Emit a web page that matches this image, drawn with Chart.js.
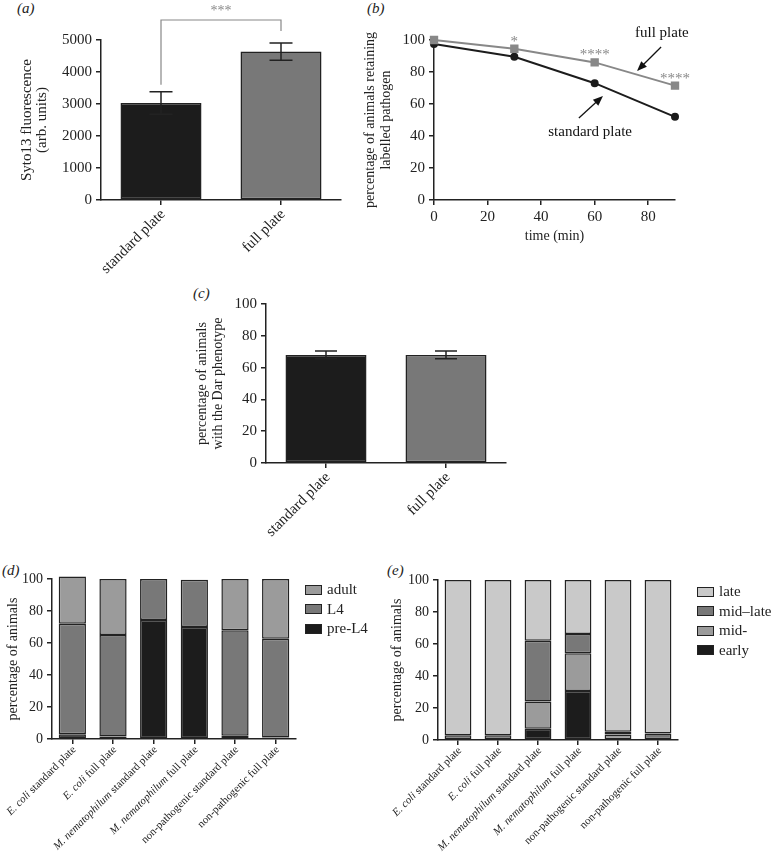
<!DOCTYPE html>
<html>
<head>
<meta charset="utf-8">
<script src="https://cdn.jsdelivr.net/npm/chart.js@4"></script>
<style>
  body { margin: 0; background: #fff; width: 773px; height: 863px; position: relative; overflow: hidden;
         font-family: "Liberation Serif", "Times New Roman", serif; color: #222; }
  canvas { position: absolute; }
  .tag { position: absolute; font-style: italic; font-size: 15px; line-height: 16px; }
  .legend { position: absolute; font-size: 15px; }
  .legend .row { height: 19.5px; display: flex; align-items: center; }
  .legend .sw { width: 15px; height: 8px; border: 1.5px solid #222; margin-right: 5px; }
</style>
</head>
<body>
<div class="tag" style="left:17px;top:0px">(a)</div>
<div class="tag" style="left:367px;top:0px">(b)</div>
<div class="tag" style="left:193px;top:285px">(c)</div>
<div class="tag" style="left:2px;top:562px">(d)</div>
<div class="tag" style="left:387px;top:562px">(e)</div>

<canvas id="chartA" width="355" height="280" style="left:0;top:0"></canvas>
<canvas id="chartB" width="418" height="250" style="left:355px;top:0"></canvas>
<canvas id="chartC" width="340" height="300" style="left:185px;top:280px"></canvas>
<canvas id="chartD" width="385" height="303" style="left:0;top:560px"></canvas>
<canvas id="chartE" width="388" height="303" style="left:385px;top:560px"></canvas>
<div class="legend" id="legendD" style="left:305px;top:580px"></div>
<div class="legend" id="legendE" style="left:697px;top:582px"></div>

<script>
// (a) Syto13 fluorescence
const plates = ['standard plate', 'full plate'];
const syto13Mean = [3030, 4640];
const syto13Err = [350, 270];
const syto13Stars = '***';

// (b) retention over time
const timeMin = [0, 30, 60, 90];
const retainStandard = [97.5, 89.5, 73, 52];
const retainFull = [100, 94.5, 86, 71.5];
const retainStars = ['', '*', '****', '****'];

// (c) Dar phenotype
const darMean = [68, 68];
const darErr = [2.5, 2.5];

// (d), (e) conditions
const conditions = [
  'E. coli standard plate', 'E. coli full plate',
  'M. nematophilum standard plate', 'M. nematophilum full plate',
  'non-pathogenic standard plate', 'non-pathogenic full plate'
];
const italicTerms = ['E. coli', 'M. nematophilum'];

// (d) developmental stage
const stagePreL4 = [3, 1.5, 74.4, 70, 2, 1];
const stageL4 = [69, 63.5, 25.6, 29.5, 66, 61.7];
const stageAdult = [29.5, 35, 0, 0, 32, 37.3];

// (e) swelling stage
const morphEarly = [0, 0, 7, 30.6, 0, 0];
const morphMid = [0, 0, 17, 23.6, 3.5, 0];
const morphMidLate = [3, 3, 38, 12.1, 1.7, 4];
const morphLate = [97, 97, 38, 33.7, 94.8, 96];

const INK = '#222';
const BLACK = '#1c1c1c';
const DARK = '#787878';
const MID = '#9b9b9b';
const LIGHT = '#c9c9c9';
const FONT = '"Liberation Serif", "Times New Roman", serif';

Chart.defaults.font.family = FONT;
Chart.defaults.color = INK;
Chart.defaults.animation = false;
Chart.defaults.events = [];
Chart.defaults.plugins.legend.display = false;
Chart.defaults.plugins.tooltip.enabled = false;

function yScale(max, step, width, size, title) {
  return {
    min: 0, max: max,
    ticks: { stepSize: step, padding: 4, font: { size: size }, color: INK, callback: v => String(v) },
    grid: { drawOnChartArea: false, tickLength: 5, color: INK, lineWidth: 1.5 },
    border: { color: INK, width: 1.5 },
    title: title,
    afterFit: s => { s.width = width; }
  };
}

function xCategory(height, stacked) {
  return {
    stacked: !!stacked,
    offset: true,
    ticks: { display: false },
    grid: { offset: false, drawOnChartArea: false, tickLength: 5, color: INK, lineWidth: 1.5 },
    border: { color: INK, width: 1.5 },
    afterFit: s => { s.height = height; }
  };
}

// slanted category labels, with italic species names
const slantedLabels = {
  id: 'slantedLabels',
  afterDraw(chart, args, opts) {
    const { ctx } = chart;
    const x = chart.scales.x;
    const base = chart.chartArea.bottom;
    chart.data.labels.forEach((label, i) => {
      const term = italicTerms.find(t => label.startsWith(t));
      const parts = term ? [[term, true], [label.slice(term.length), false]] : [[label, false]];
      ctx.save();
      ctx.fillStyle = INK;
      ctx.textBaseline = 'middle';
      ctx.textAlign = 'left';
      const widths = parts.map(([t, it]) => {
        ctx.font = (it ? 'italic ' : '') + opts.size + 'px ' + FONT;
        return ctx.measureText(t).width;
      });
      let cx = -widths.reduce((a, b) => a + b, 0);
      ctx.translate(x.getPixelForValue(i) + opts.dx, base + opts.dy);
      ctx.rotate(-Math.PI / 4);
      parts.forEach(([t, it], k) => {
        ctx.font = (it ? 'italic ' : '') + opts.size + 'px ' + FONT;
        ctx.fillText(t, cx, 0);
        cx += widths[k];
      });
      ctx.restore();
    });
  }
};

const errorBars = {
  id: 'errorBars',
  afterDatasetsDraw(chart, args, opts) {
    const { ctx, scales: { x, y } } = chart;
    ctx.save();
    ctx.strokeStyle = INK;
    ctx.lineWidth = 1.5;
    chart.data.datasets[0].data.forEach((v, i) => {
      const px = x.getPixelForValue(i);
      const top = y.getPixelForValue(v + opts.errors[i]);
      const bot = y.getPixelForValue(v - opts.errors[i]);
      ctx.beginPath();
      ctx.moveTo(px, top); ctx.lineTo(px, bot);
      ctx.moveTo(px - opts.cap, top); ctx.lineTo(px + opts.cap, top);
      ctx.moveTo(px - opts.cap, bot); ctx.lineTo(px + opts.cap, bot);
      ctx.stroke();
    });
    ctx.restore();
  }
};

const sigBracket = {
  id: 'sigBracket',
  afterDatasetsDraw(chart) {
    const { ctx, scales: { x, y } } = chart;
    const x0 = x.getPixelForValue(0), x1 = x.getPixelForValue(1);
    const top = y.getPixelForValue(5625);
    ctx.save();
    ctx.strokeStyle = '#888';
    ctx.lineWidth = 1.2;
    ctx.beginPath();
    ctx.moveTo(x0, y.getPixelForValue(3600));
    ctx.lineTo(x0, top);
    ctx.lineTo(x1, top);
    ctx.lineTo(x1, y.getPixelForValue(5280));
    ctx.stroke();
    ctx.fillStyle = '#888';
    ctx.font = '14px ' + FONT;
    ctx.textAlign = 'center';
    ctx.fillText(syto13Stars, (x0 + x1) / 2, y.getPixelForValue(5781));
    ctx.restore();
  }
};

// (a)
new Chart(document.getElementById('chartA'), {
  type: 'bar',
  data: {
    labels: plates,
    datasets: [{
      data: syto13Mean, backgroundColor: [BLACK, DARK], borderColor: INK, borderWidth: 1.5,
      borderSkipped: false, barPercentage: 0.675, categoryPercentage: 1
    }]
  },
  options: {
    responsive: false,
    layout: { padding: { left: 0, top: 40, right: 14, bottom: 0 } },
    scales: {
      x: xCategory(80),
      y: yScale(5000, 1000, 101, 15, {
        display: true, text: ['Syto13 fluorescence', '(arb. units)'],
        font: { size: 15, lineHeight: 1 }, padding: { top: 20, bottom: 0 }, color: INK
      })
    },
    plugins: {
      errorBars: { errors: syto13Err, cap: 11.5 },
      slantedLabels: { size: 15, dx: 2, dy: 12 }
    }
  },
  plugins: [errorBars, sigBracket, slantedLabels]
});

// (b)
const callouts = [
  { ds: 0, text: [85.1, 104.4], from: [84.8, 95.6], to: [75.8, 80.6] },
  { ds: 1, text: [58.3, 42.5], from: [54.1, 51.25], to: [63.1, 65] }
];
const lineNotes = {
  id: 'lineNotes',
  afterDatasetsDraw(chart) {
    const { ctx, scales: { x, y } } = chart;
    ctx.save();
    ctx.fillStyle = '#888';
    ctx.font = '15px ' + FONT;
    ctx.textAlign = 'center';
    retainStars.forEach((s, i) => {
      if (s) ctx.fillText(s, x.getPixelForValue(timeMin[i]), y.getPixelForValue(retainFull[i]) - 3);
    });
    ctx.fillStyle = '#111';
    ctx.strokeStyle = '#111';
    ctx.lineWidth = 1.3;
    ctx.textBaseline = 'middle';
    callouts.forEach(c => {
      ctx.fillText(chart.data.datasets[c.ds].label, x.getPixelForValue(c.text[0]), y.getPixelForValue(c.text[1]));
      const x0 = x.getPixelForValue(c.from[0]), y0 = y.getPixelForValue(c.from[1]);
      const x1 = x.getPixelForValue(c.to[0]), y1 = y.getPixelForValue(c.to[1]);
      const a = Math.atan2(y1 - y0, x1 - x0);
      ctx.beginPath();
      ctx.moveTo(x0, y0);
      ctx.lineTo(x1 - 6 * Math.cos(a), y1 - 6 * Math.sin(a));
      ctx.stroke();
      ctx.beginPath();
      ctx.moveTo(x1, y1);
      ctx.lineTo(x1 - 10 * Math.cos(a) + 4 * Math.sin(a), y1 - 10 * Math.sin(a) - 4 * Math.cos(a));
      ctx.lineTo(x1 - 10 * Math.cos(a) - 4 * Math.sin(a), y1 - 10 * Math.sin(a) + 4 * Math.cos(a));
      ctx.closePath();
      ctx.fill();
    });
    ctx.restore();
  }
};

new Chart(document.getElementById('chartB'), {
  type: 'line',
  data: {
    datasets: [
      {
        label: 'full plate', data: timeMin.map((t, i) => ({ x: t, y: retainFull[i] })),
        borderColor: '#888', backgroundColor: '#888', pointStyle: 'rect', pointRadius: 4.5,
        borderWidth: 2, clip: false
      },
      {
        label: 'standard plate', data: timeMin.map((t, i) => ({ x: t, y: retainStandard[i] })),
        borderColor: BLACK, backgroundColor: BLACK, pointStyle: 'circle', pointRadius: 3,
        borderWidth: 2, clip: false
      }
    ]
  },
  options: {
    responsive: false,
    layout: { padding: { left: 0, top: 40, right: 98, bottom: 0 } },
    scales: {
      x: {
        type: 'linear', min: 0, max: 90,
        ticks: { stepSize: 20, padding: 3, font: { size: 15 }, color: INK, callback: v => String(v) },
        afterBuildTicks: s => { s.ticks = s.ticks.filter(t => t.value % 20 === 0); },
        grid: { drawOnChartArea: false, tickLength: 5, color: INK, lineWidth: 1.5 },
        border: { color: INK, width: 1.5 },
        title: { display: true, text: 'time (min)', font: { size: 14 }, padding: { top: 0, bottom: 5 }, color: INK },
        afterFit: s => { s.height = 50; }
      },
      y: yScale(100, 20, 79, 15, {
        display: true, text: ['percentage of animals retaining', 'labelled pathogen'],
        font: { size: 14, lineHeight: 1.15 }, padding: { top: 7, bottom: 0 }, color: INK
      })
    }
  },
  plugins: [lineNotes]
});

// (c)
new Chart(document.getElementById('chartC'), {
  type: 'bar',
  data: {
    labels: plates,
    datasets: [{
      data: darMean, backgroundColor: [BLACK, DARK], borderColor: INK, borderWidth: 1.5,
      borderSkipped: false, barPercentage: 0.675, categoryPercentage: 1
    }]
  },
  options: {
    responsive: false,
    layout: { padding: { left: 0, top: 24, right: 19, bottom: 0 } },
    scales: {
      x: xCategory(117),
      y: yScale(100, 20, 81, 15, {
        display: true, text: ['percentage of animals', 'with the Dar phenotype'],
        font: { size: 14, lineHeight: 1.2 }, padding: { top: 8.6, bottom: 0 }, color: INK
      })
    },
    plugins: {
      errorBars: { errors: darErr, cap: 11 },
      slantedLabels: { size: 15, dx: 2, dy: 12 }
    }
  },
  plugins: [errorBars, slantedLabels]
});

function stackedChart(id, sets, padRight, top, width, titlePad) {
  return new Chart(document.getElementById(id), {
    type: 'bar',
    data: {
      labels: conditions,
      datasets: sets.map(s => ({
        label: s.label, data: s.data, backgroundColor: s.color, borderColor: INK,
        borderWidth: c => (c.raw ? 1.5 : 0),
        borderSkipped: false, barPercentage: 0.67, categoryPercentage: 1, clip: false
      }))
    },
    options: {
      responsive: false,
      layout: { padding: { left: 0, top: top, right: padRight, bottom: 0 } },
      scales: {
        x: xCategory(303 - top - 160, true),
        y: Object.assign(yScale(100, 20, width, 14, {
          display: true, text: 'percentage of animals',
          font: { size: 14, lineHeight: 1.2 }, padding: { top: titlePad, bottom: 0 }, color: INK
        }), { stacked: true })
      },
      plugins: { slantedLabels: { size: 11, dx: 2, dy: 9 } }
    },
    plugins: [slantedLabels]
  });
}

function htmlLegend(id, chart) {
  const box = document.getElementById(id);
  chart.data.datasets.slice().reverse().forEach(ds => {
    const row = document.createElement('div');
    row.className = 'row';
    const sw = document.createElement('span');
    sw.className = 'sw';
    sw.style.background = ds.backgroundColor;
    row.appendChild(sw);
    row.appendChild(document.createTextNode(ds.label));
    box.appendChild(row);
  });
}

// (d)
const chartD = stackedChart('chartD', [
  { label: 'pre-L4', data: stagePreL4, color: BLACK },
  { label: 'L4', data: stageL4, color: DARK },
  { label: 'adult', data: stageAdult, color: MID }
], 89, 19, 52, 4.6);
htmlLegend('legendD', chartD);

// (e)
const chartE = stackedChart('chartE', [
  { label: 'early', data: morphEarly, color: BLACK },
  { label: 'mid-', data: morphMid, color: MID },
  { label: 'mid–late', data: morphMidLate, color: DARK },
  { label: 'late', data: morphLate, color: LIGHT }
], 95, 20, 53, 3.6);
htmlLegend('legendE', chartE);
</script>
</body>
</html>
